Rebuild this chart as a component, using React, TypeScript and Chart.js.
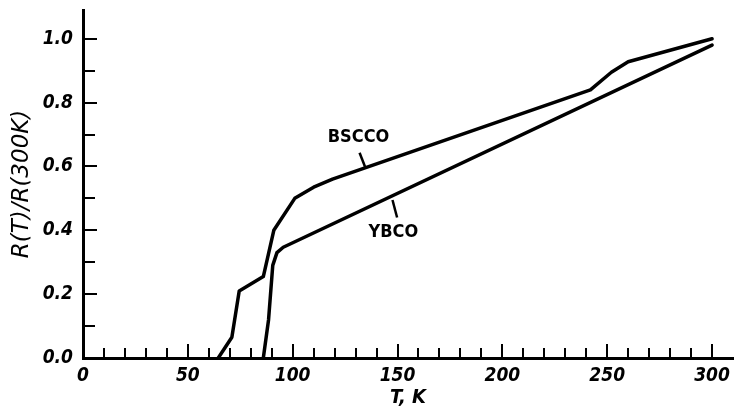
import { useEffect, useRef } from "react";
import { Chart, registerables } from "chart.js";

Chart.register(...registerables);

// ---- data ----
const bsccoT = [64.5, 71, 74.5, 86, 91, 101, 110, 119, 242, 252, 260, 300];
const bsccoR = [0, 0.065, 0.21, 0.255, 0.4, 0.5, 0.535, 0.56, 0.84, 0.895, 0.928, 1.0];
const ybcoT = [86, 88.5, 90.5, 92.5, 95.5, 300];
const ybcoR = [0, 0.12, 0.29, 0.33, 0.347, 0.98];

const xTickLabels = [0, 50, 100, 150, 200, 250, 300];
const yTickLabels = [0, 0.2, 0.4, 0.6, 0.8, 1.0];
const xTickMarks = [10, 20, 30, 40, 50, 60, 70, 80, 90, 100, 110, 120, 130, 140, 150, 160, 170, 180, 190, 200, 210, 220, 230, 240, 250, 260, 270, 280, 290, 300];
const xMajorMarks = [50, 100, 150, 200, 250, 300];
const yTickMarks = [0.1, 0.2, 0.3, 0.4, 0.5, 0.6, 0.7, 0.8, 0.9, 1.0];
const yMajorMarks = [0.2, 0.4, 0.6, 0.8, 1.0];

// curve labels: [text, labelT, labelR, leaderFromT, leaderFromR, leaderToT, leaderToR]
const curveLabels: [string, number, number, number, number, number, number][] = [
  ["BSCCO", 131.4, 0.69, 131.9, 0.643, 134.7, 0.596],
  ["YBCO", 148, 0.395, 149.8, 0.44, 147.6, 0.495],
];

const FAMILY = "'Liberation Sans Narrow', 'DejaVu Sans Condensed', 'Roboto Condensed', sans-serif";

const decor = {
  id: "decor",
  afterDatasetsDraw(chart: any) {
    const { ctx, scales } = chart;
    const x = scales.x;
    const y = scales.y;
    const y0 = y.getPixelForValue(0);
    const x0 = x.getPixelForValue(0);
    ctx.save();
    ctx.strokeStyle = "#000";
    ctx.lineWidth = 2;
    ctx.lineCap = "butt";
    xTickMarks.forEach((v) => {
      const px = Math.round(x.getPixelForValue(v));
      const len = xMajorMarks.includes(v) ? 14 : 10;
      ctx.beginPath();
      ctx.moveTo(px, y0);
      ctx.lineTo(px, y0 - len);
      ctx.stroke();
    });
    yTickMarks.forEach((v) => {
      const py = Math.round(y.getPixelForValue(v));
      const len = yMajorMarks.some((m) => Math.abs(m - v) < 1e-6) ? 14 : 12;
      ctx.beginPath();
      ctx.moveTo(x0, py);
      ctx.lineTo(x0 + len, py);
      ctx.stroke();
    });
    ctx.fillStyle = "#000";
    ctx.font = `bold 18px ${FAMILY}`;
    ctx.textAlign = "center";
    ctx.textBaseline = "middle";
    ctx.lineWidth = 2.5;
    curveLabels.forEach(([text, lt, lr, ft, fr, tt, tr]) => {
      ctx.fillText(text, x.getPixelForValue(lt), y.getPixelForValue(lr));
      ctx.beginPath();
      ctx.moveTo(x.getPixelForValue(ft), y.getPixelForValue(fr));
      ctx.lineTo(x.getPixelForValue(tt), y.getPixelForValue(tr));
      ctx.stroke();
    });
    ctx.restore();
  },
};

export default function App() {
  const ref = useRef<HTMLCanvasElement>(null);
  useEffect(() => {
    if (!ref.current) return;
    const chart = new Chart(ref.current, {
      type: "line",
      data: {
        datasets: [
          {
            label: "BSCCO",
            data: bsccoT.map((t, i) => ({ x: t, y: bsccoR[i] })),
            borderColor: "#000",
            borderWidth: 3.5,
            pointRadius: 0,
            tension: 0,
            borderJoinStyle: "round",
            borderCapStyle: "round",
          },
          {
            label: "YBCO",
            data: ybcoT.map((t, i) => ({ x: t, y: ybcoR[i] })),
            borderColor: "#000",
            borderWidth: 3.5,
            pointRadius: 0,
            tension: 0,
            borderJoinStyle: "round",
            borderCapStyle: "round",
          },
        ],
      },
      options: {
        animation: false,
        responsive: false,
        devicePixelRatio: 1,
        layout: { padding: { top: 10, right: 3, left: 0, bottom: 0 } },
        plugins: { legend: { display: false }, tooltip: { enabled: false } },
        scales: {
          x: {
            type: "linear",
            min: 0,
            max: 310,
            afterBuildTicks: (s: any) => {
              s.ticks = xTickLabels.map((v) => ({ value: v }));
            },
            afterFit: (s: any) => {
              s.height = 52;
              s.paddingLeft = 0;
              s.paddingRight = 0;
            },
            grid: { display: false, drawTicks: false },
            border: { display: true, color: "#000", width: 3 },
            ticks: {
              color: "#000",
              padding: 7,
              maxRotation: 0,
              autoSkip: false,
              font: { family: FAMILY, size: 19, weight: "bold", style: "italic" },
              callback: (v: any) => String(v),
            },
            title: {
              display: true,
              text: "T, K",
              color: "#000",
              padding: { top: 0, bottom: 0 },
              font: { family: FAMILY, size: 20, weight: "bold", style: "italic" },
            },
          },
          y: {
            type: "linear",
            min: 0,
            max: 1.09,
            afterBuildTicks: (s: any) => {
              s.ticks = yTickLabels.map((v) => ({ value: v }));
            },
            afterFit: (s: any) => {
              s.width = 83;
              s.paddingTop = 0;
              s.paddingBottom = 0;
            },
            grid: { display: false, drawTicks: false },
            border: { display: true, color: "#000", width: 3 },
            ticks: {
              color: "#000",
              padding: 10,
              autoSkip: false,
              font: { family: FAMILY, size: 19, weight: "bold", style: "italic" },
              callback: (v: any) => Number(v).toFixed(1),
            },
            title: {
              display: true,
              text: "R(T)/R(300K)",
              color: "#000",
              padding: { top: 8, bottom: 0 },
              font: { family: "'DejaVu Sans', sans-serif", size: 23, style: "italic" },
            },
          },
        },
      },
      plugins: [decor],
    } as any);
    return () => chart.destroy();
  }, []);
  return (
    <div style={{ position: "fixed", left: 0, top: 0, width: 736, height: 410, background: "#fff" }}>
      <canvas ref={ref} width={736} height={410} style={{ display: "block" }} />
    </div>
  );
}
